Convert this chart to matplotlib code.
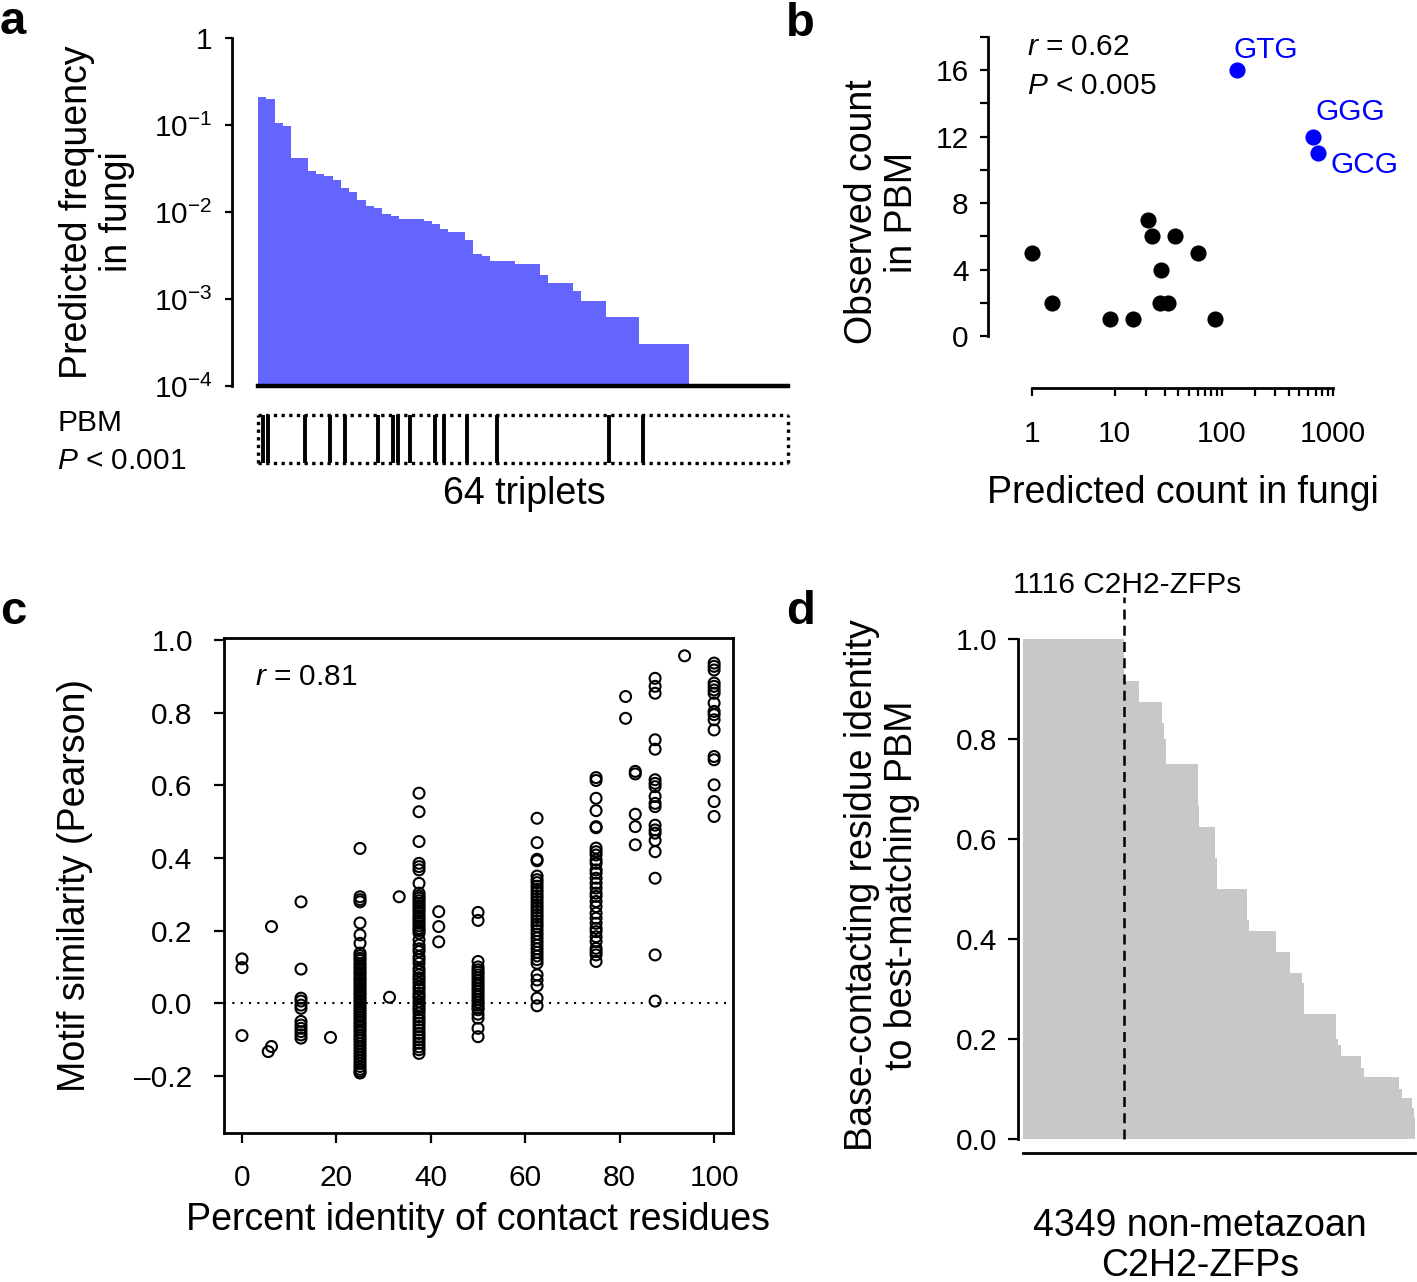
import numpy as np
import matplotlib
matplotlib.use("Agg")
import matplotlib.pyplot as plt

plt.rcParams['font.family'] = ['Liberation Sans', 'DejaVu Sans']
plt.rcParams['mathtext.fontset'] = 'custom'
plt.rcParams['mathtext.rm'] = 'Liberation Sans'
plt.rcParams['mathtext.it'] = 'Liberation Sans:italic'
plt.rcParams['mathtext.bf'] = 'Liberation Sans:bold'

# ---- data ----
# a: predicted triplet frequency in fungi, sorted (52 of 64 triplets non-zero)
freq_sorted = [0.21, 0.20, 0.105, 0.098, 0.042, 0.042,
               0.0295, 0.0275, 0.0257, 0.0236, 0.019, 0.017, 0.0137, 0.0118, 0.0111, 0.0096, 0.0089,
               0.0083, 0.0083, 0.0083, 0.0078, 0.0072, 0.0063, 0.0059, 0.0059,
               0.0048, 0.0033, 0.0031, 0.0027, 0.0027, 0.0027, 0.0025, 0.0025, 0.0025,
               0.0019, 0.00154, 0.00154, 0.00154, 0.00123, 0.00094, 0.00094, 0.00094,
               0.00062, 0.00062, 0.00062, 0.00062,
               0.00030, 0.00030, 0.00030, 0.00030, 0.00030, 0.00030]
n_triplets = 64
pbm_ranks = [0.64, 1.25, 5.7, 8.7, 10.5, 14.5, 16.3, 16.9, 18.4, 21.4, 22.4, 25.2, 28.8, 42.4, 46.5]

# b: predicted count in fungi vs observed count in PBM
pred_black = [1, 2, 9, 15, 21, 23, 37, 61, 28, 27, 32, 86]
obs_black = [5, 2, 1, 1, 7, 6, 6, 5, 4, 2, 2, 1]
blue_names = ['GTG', 'GGG', 'GCG']
pred_blue = [136, 660, 730]
obs_blue = [16, 12, 11]

# c: motif similarity vs percent identity of contact residues
c_cols = {
    0: [0.122, 0.098, -0.089],
    5.56: [-0.133],
    6.25: [-0.119, 0.211],
    12.5: [0.279, 0.094, 0.014, 0.006, -0.005, -0.014, -0.05, -0.06, -0.069, -0.078, -0.087, -0.096],
    18.75: [-0.094],
    25: [0.426, 0.293, 0.285, 0.279, 0.221, 0.188, 0.165,
         0.138, 0.131, 0.124, 0.118, 0.110, 0.104, 0.097, 0.090, 0.083, 0.077, 0.070, 0.064,
         0.057, 0.050, 0.044, 0.037, 0.030, 0.024, 0.017, 0.010, 0.004, -0.003, -0.010,
         -0.017, -0.024, -0.031, -0.038, -0.045, -0.052, -0.059, -0.066, -0.073, -0.080,
         -0.088, -0.095, -0.102, -0.110, -0.118, -0.126, -0.134, -0.142, -0.150, -0.158,
         -0.166, -0.174, -0.182, -0.188, -0.192],
    31.25: [0.0165],
    33.3: [0.293],
    37.5: [0.578, 0.527, 0.445, 0.385, 0.376, 0.367, 0.33, 0.303, 0.295, 0.289, 0.282, 0.275,
           0.268, 0.261, 0.255, 0.248, 0.240, 0.234, 0.227, 0.220, 0.213, 0.206, 0.200, 0.193,
           0.174, 0.160, 0.150, 0.142, 0.128, 0.120, 0.110, 0.096, 0.088, 0.078, 0.070, 0.064,
           0.055, 0.046, 0.038, 0.028, 0.020, 0.014, 0.004, -0.005, -0.012, -0.018, -0.027,
           -0.037, -0.046, -0.055, -0.064, -0.073, -0.083, -0.092, -0.101, -0.110, -0.120,
           -0.128, -0.138],
    41.67: [0.252, 0.211, 0.169],
    50: [0.25, 0.228, 0.115, 0.10, 0.092, 0.085, 0.078, 0.07, 0.063, 0.055, 0.048, 0.04,
         0.033, 0.025, 0.018, 0.01, 0.003, -0.005, -0.012, -0.018, -0.03, -0.041, -0.069, -0.092],
    62.5: [0.509, 0.442, 0.396, 0.392, 0.35, 0.34, 0.332, 0.322, 0.313, 0.305, 0.296, 0.288,
           0.279, 0.27, 0.262, 0.253, 0.244, 0.236, 0.227, 0.218, 0.21, 0.2, 0.19, 0.18, 0.17,
           0.16, 0.15, 0.14, 0.13, 0.12, 0.11, 0.078, 0.064, 0.048, 0.014, -0.007],
    75: [0.621, 0.613, 0.564, 0.53, 0.486, 0.483, 0.427, 0.417, 0.408, 0.394, 0.385, 0.367,
         0.358, 0.344, 0.33, 0.317, 0.303, 0.294, 0.28, 0.266, 0.248, 0.234, 0.22, 0.206,
         0.197, 0.183, 0.17, 0.151, 0.142, 0.133, 0.115],
    81.25: [0.844, 0.784],
    83.3: [0.638, 0.631, 0.52, 0.486, 0.436],
    87.5: [0.894, 0.872, 0.853, 0.725, 0.699, 0.615, 0.605, 0.596, 0.569, 0.55, 0.541,
           0.49, 0.477, 0.468, 0.448, 0.417, 0.344, 0.133, 0.006],
    93.75: [0.956],
    100: [0.936, 0.927, 0.917, 0.881, 0.872, 0.862, 0.853, 0.826, 0.803, 0.794, 0.78,
          0.752, 0.679, 0.67, 0.601, 0.555, 0.514],
}

# d: base-contacting residue identity to best-matching PBM (step widths = number of ZFPs)
d_identity = [1.0, 0.917, 0.875, 0.833, 0.8, 0.75, 0.667, 0.625, 0.5625, 0.5, 0.4375, 0.417,
              0.375, 0.333, 0.3125, 0.25, 0.2, 0.1875, 0.167, 0.143, 0.125, 0.1, 0.083, 0.0625, 0.042]
d_counts = [1116, 168, 261, 19, 26, 346, 19, 175, 19, 335, 19, 309,
            149, 130, 22, 361, 19, 37, 224, 34, 384, 37, 112, 19, 11]
n_zfps = 4349
n_identical = 1116

W, H = 1417, 1282
fig = plt.figure(figsize=(W / 100, H / 100), dpi=100)


def box(x0, y0, x1, y1):
    return [x0 / W, 1 - y1 / H, (x1 - x0) / W, (y1 - y0) / H]


def ftext(x, y, s, **kw):
    fig.text(x / W, 1 - y / H, s, **kw)


TICK = 21.5
LAB = 27
PX = 0.72  # points per pixel


def style(ax):
    for sp in ax.spines.values():
        sp.set_linewidth(2)
    ax.tick_params(which='both', direction='out', length=7, width=1.6,
                   labelsize=TICK, pad=8)


# ---- panel a ----
ax_a = fig.add_axes(box(258, 38, 788, 386))
ax_a.bar(np.arange(len(freq_sorted)), freq_sorted, width=1.0, align='edge',
         color='#6464ff', linewidth=0)
ax_a.set_yscale('log')
ax_a.set_ylim(1e-4, 1)
ax_a.set_xlim(0, n_triplets)
style(ax_a)
ax_a.spines['top'].set_visible(False)
ax_a.spines['right'].set_visible(False)
ax_a.spines['left'].set_position(('outward', 26 * PX))
ax_a.spines['bottom'].set_linewidth(3.2)
ax_a.set_xticks([])
ax_a.set_yticks([1e-4, 1e-3, 1e-2, 1e-1, 1])
ax_a.set_yticklabels(['$10^{-4}$', '$10^{-3}$', '$10^{-2}$', '$10^{-1}$', '1'])
ax_a.yaxis.set_minor_locator(matplotlib.ticker.NullLocator())
ax_a.tick_params(axis='y', length=5, pad=9)

ax_bc = fig.add_axes(box(258, 415, 788, 463))
ax_bc.vlines(pbm_ranks, 0, 1, color='black', linewidth=2.8)
ax_bc.set_xlim(0, n_triplets)
ax_bc.set_ylim(0, 1)
ax_bc.set_xticks([])
ax_bc.set_yticks([])
for sp in ax_bc.spines.values():
    sp.set_linestyle((0, (1, 1.3)))
    sp.set_linewidth(2.4)
    sp.set_capstyle('butt')

ftext(97, 212, 'Predicted frequency\nin fungi', rotation=90, ha='center', va='center',
      fontsize=LAB, linespacing=1.15)
ftext(57, 423, 'PBM', ha='left', va='center', fontsize=TICK)
ftext(57, 461, '$P$ < 0.001', ha='left', va='center', fontsize=TICK)
ftext(524, 494, '64 triplets', ha='center', va='center', fontsize=LAB)

# ---- panel b ----
ax_b = fig.add_axes(box(1032, 37, 1333, 336))
ax_b.set_xscale('function', functions=(lambda x: np.log10(np.asarray(x) + 1),
                                       lambda y: 10 ** np.asarray(y) - 1))
ax_b.scatter(pred_black, obs_black, s=135, color='black', linewidths=0, clip_on=False, zorder=3)
ax_b.scatter(pred_blue, obs_blue, s=135, color='#0000ff', linewidths=0, clip_on=False, zorder=3)
ax_b.set_xlim(1, 1000)
ax_b.set_ylim(0, 18)
style(ax_b)
ax_b.spines['top'].set_visible(False)
ax_b.spines['right'].set_visible(False)
ax_b.spines['left'].set_position(('outward', 44 * PX))
ax_b.spines['bottom'].set_position(('outward', 52 * PX))
ax_b.set_xticks([1, 10, 100, 1000])
ax_b.set_xticklabels(['1', '10', '100', '1000'])
ax_b.set_xticks([20, 30, 40, 50, 60, 70, 80, 90, 200, 300, 400, 500, 600, 700, 800, 900], minor=True)
ax_b.set_yticks([0, 4, 8, 12, 16])
ax_b.set_yticks([2, 6, 10, 14, 18], minor=True)
ax_b.tick_params(axis='both', which='both', length=6)
ax_b.tick_params(axis='x', which='major', pad=17)

label_off = [(-3, 20), (3, 25), (13, -12)]
for name, xv, yv, (dx, dy) in zip(blue_names, pred_blue, obs_blue, label_off):
    ax_b.annotate(name, (xv, yv), xytext=(dx * PX, dy * PX), textcoords='offset points',
                  color='#0000ff', fontsize=TICK, ha='left', va='center')

ftext(1027, 47, '$r$ = 0.62', ha='left', va='center', fontsize=TICK)
ftext(1027, 86, '$P$ < 0.005', ha='left', va='center', fontsize=TICK)
ftext(882, 212, 'Observed count\nin PBM', rotation=90, ha='center', va='center',
      fontsize=LAB, linespacing=1.15)
ftext(1183, 493, 'Predicted count in fungi', ha='center', va='center', fontsize=LAB)

# ---- panel c ----
ax_c = fig.add_axes(box(224, 638, 733, 1133))
for xv, ys in c_cols.items():
    ax_c.scatter([xv] * len(ys), ys, s=62, facecolors='none', edgecolors='black',
                 linewidths=1.5, zorder=3)
ax_c.axhline(0, color='black', linestyle=(0, (1, 3)), linewidth=1.5)
ax_c.set_xlim(-3.81, 104.0)
ax_c.set_ylim(-0.357, 1.005)
style(ax_c)
ax_c.tick_params(which='both', length=7.5, pad=15)
ax_c.set_xticks([0, 20, 40, 60, 80, 100])
ax_c.set_yticks([-0.2, 0.0, 0.2, 0.4, 0.6, 0.8, 1.0])
ax_c.set_yticklabels(['\u20130.2', '0.0', '0.2', '0.4', '0.6', '0.8', '1.0'])
ax_c.text(2.8, 0.898, '$r$ = 0.81', ha='left', va='center', fontsize=TICK)
ftext(75, 885, 'Motif similarity (Pearson)', rotation=90, ha='center', va='center', fontsize=LAB)
ftext(478, 1220, 'Percent identity of contact residues', ha='center', va='center', fontsize=LAB)

# ---- panel d ----
ax_d = fig.add_axes(box(1023, 639, 1415, 1139))
edges = np.concatenate([[0], np.cumsum(d_counts)[:-1]])
ax_d.bar(edges, d_identity, width=d_counts, align='edge', color='#c8c8c8', linewidth=0)
ax_d.plot([n_identical, n_identical], [0, 1.085], color='black', linestyle=(0, (4, 2.5)),
          linewidth=1.8, clip_on=False)
ax_d.set_xlim(0, n_zfps)
ax_d.set_ylim(0, 1)
style(ax_d)
ax_d.spines['top'].set_visible(False)
ax_d.spines['right'].set_visible(False)
ax_d.spines['left'].set_position(('outward', 5 * PX))
ax_d.spines['bottom'].set_position(('outward', 14 * PX))
ax_d.set_xticks([])
ax_d.set_yticks([0.0, 0.2, 0.4, 0.6, 0.8, 1.0])
ax_d.set_yticklabels(['0.0', '0.2', '0.4', '0.6', '0.8', '1.0'])
ftext(1127, 585, '1116 C2H2-ZFPs', ha='center', va='center', fontsize=TICK)
ftext(882, 885, 'Base-contacting residue identity\nto best-matching PBM', rotation=90,
      ha='center', va='center', fontsize=LAB, linespacing=1.15)
ftext(1200, 1246, '4349 non-metazoan\nC2H2-ZFPs', ha='center', va='center', fontsize=LAB,
      linespacing=1.15)

# panel letters
for letter, x, y in [('a', 0, 34), ('b', 786, 36), ('c', 0, 624), ('d', 786, 624)]:
    ftext(x, y, letter, ha='left', va='baseline', fontsize=34, fontweight='bold')

fig.savefig('out.png', dpi=100)
